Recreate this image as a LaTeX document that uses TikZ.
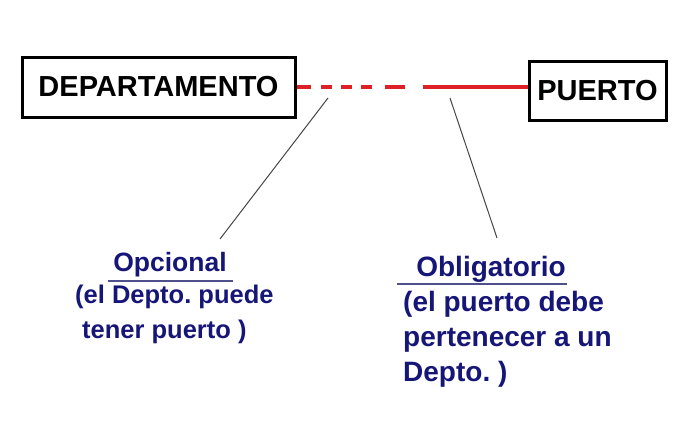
\documentclass[tikz,border=0pt]{standalone}
\usepackage{fontspec}
\setmainfont{Liberation Sans}
\frenchspacing
\begin{document}
\begin{tikzpicture}[x=1pt,y=-1pt,
  entbox/.style={draw=black,line width=3pt,inner sep=0pt,font=\fontsize{29}{34}\selectfont\bfseries},
  relline/.style={draw={rgb,255:red,222;green,32;blue,38},line width=4pt},
  leader/.style={draw={rgb,255:red,70;green,70;blue,70},line width=1pt},
  ttl/.style={text={rgb,255:red,22;green,22;blue,120},font=\fontsize{28}{35}\selectfont\bfseries,inner sep=0pt},
  body/.style={text={rgb,255:red,22;green,22;blue,120},font=\fontsize{28}{35}\selectfont\bfseries,inner sep=0pt,align=left,anchor=base west},
  narrow/.style={font=\fontsize{25.5}{35}\selectfont\bfseries},
  uline/.style={draw={rgb,255:red,80;green,80;blue,140},line width=1.8pt}]
\useasboundingbox[fill=white] (0,0) rectangle (700,420);
\node[entbox,minimum width=273pt,minimum height=60pt] (dep) at (158.5,87) {DEPARTAMENTO};
\node[entbox,minimum width=137pt,minimum height=59pt] (pue) at (597.5,90.5) {PUERTO};
\coordinate (m1) at (405,87);
\coordinate (m2) at (423,87);
\draw[relline,dash pattern=on 14pt off 10pt on 11pt off 9pt on 11pt off 9pt on 11pt off 13pt on 30pt] (dep.east) -- (m1);
\draw[relline] (m2) -- (m2 -| pue.west);
% titles
\node[ttl,font=\fontsize{26.5}{35}\selectfont\bfseries,anchor=base] (op) at (170,271) {Opcional};
\node[ttl,anchor=base] (ob) at (491,276) {Obligatorio};
\coordinate (opl) at (108,281);
\coordinate (opr) at (233,281);
\coordinate (obl) at (397,284);
\coordinate (obr) at (567,284);
\draw[uline] (opl) -- (opr);
\draw[uline] (obl) -- (obr);
\node[body,narrow] (opb) at (75,338) {(el Depto. puede\\\hspace*{7pt}tener puerto )};
\node[body] (obb) at (403,381) {(el puerto debe\\pertenecer a un\\Depto. )};
% leaders
\coordinate (la1) at (328,98);
\coordinate (la2) at (220,239);
\coordinate (lb1) at (450,98);
\coordinate (lb2) at (497,238);
\draw[leader] (la1) -- (la2);
\draw[leader] (lb1) -- (lb2);
\end{tikzpicture}
\end{document}
